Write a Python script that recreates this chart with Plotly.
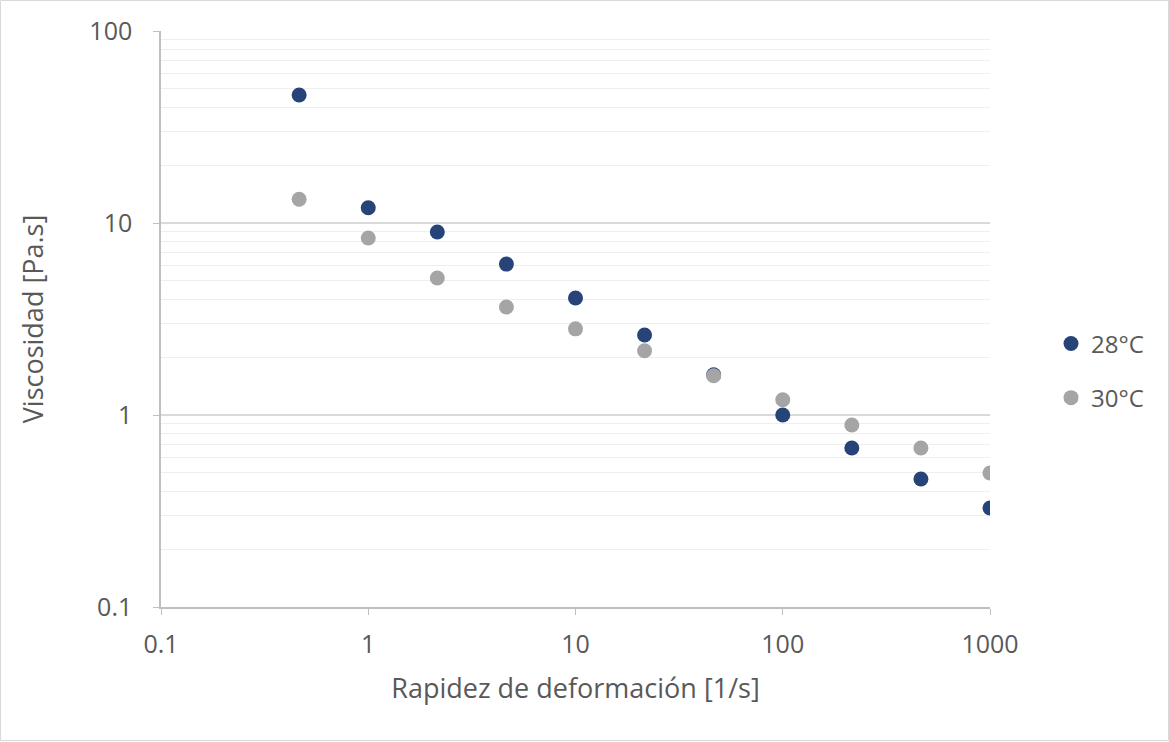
import plotly.graph_objects as go

# Shear rate [1/s]
shear_rate = [0.464, 1.0, 2.154, 4.642, 10.0, 21.54, 46.42, 100.0, 215.4, 464.2, 1000.0]
# Viscosity [Pa.s] at each temperature
visc_28 = [46.4, 12.0, 8.98, 6.11, 4.07, 2.61, 1.62, 1.00, 0.673, 0.464, 0.328]
visc_30 = [13.3, 8.35, 5.17, 3.65, 2.81, 2.16, 1.60, 1.20, 0.887, 0.673, 0.499]

series_names = ["28°C", "30°C"]
series_colors = ["#264478", "#A5A5A5"]

FONT = "Open Sans"
TXT = "#595959"

fig = go.Figure()
for name, ys, col in zip(series_names, [visc_28, visc_30], series_colors):
    fig.add_trace(go.Scatter(
        x=shear_rate, y=ys, mode="markers", name=name, legendgroup=name,
        marker=dict(size=15, color=col, line=dict(width=0)),
    ))

minor_y = [m * 10 ** e for e in (-1, 0, 1) for m in range(2, 10)]

fig.update_layout(
    width=1169, height=742,
    margin=dict(l=161, r=179, t=31, b=135),
    paper_bgcolor="white", plot_bgcolor="white",
    font=dict(family=FONT, size=24, color=TXT),
    showlegend=True,
    legend=dict(x=1.0736, y=0.41, xanchor="left", yanchor="middle",
                font=dict(size=24, color=TXT), itemsizing="trace",
                tracegroupgap=20, bgcolor="rgba(0,0,0,0)"),
    xaxis=dict(
        type="log", range=[-1, 3],
        tickvals=[0.1, 1, 10, 100, 1000], ticktext=["0.1", "1", "10", "100", "1000"],
        showgrid=False, zeroline=False,
        showline=True, linecolor="#BFBFBF", linewidth=1.5,
        ticks="outside", ticklen=6, tickcolor="#BFBFBF",
        tickfont=dict(size=25, color=TXT), ticklabelstandoff=8,
        title=dict(text="Rapidez de deformación [1/s]", font=dict(size=27, color=TXT), standoff=20),
    ),
    yaxis=dict(
        type="log", range=[-1, 2],
        tickvals=[0.1, 1, 10, 100], ticktext=["0.1", "1", "10", "100"],
        showgrid=True, gridcolor="#D9D9D9", gridwidth=1.5, zeroline=False,
        showline=True, linecolor="#BFBFBF", linewidth=1.5,
        ticks="outside", ticklen=6, tickcolor="#BFBFBF",
        tickfont=dict(size=25, color=TXT), ticklabelstandoff=16,
        minor=dict(tickvals=minor_y, showgrid=True, gridcolor="#EFEFEF", gridwidth=1.2, ticks=""),
        title=dict(text="Viscosidad [Pa.s]", font=dict(size=27, color=TXT), standoff=38),
    ),
)

# Chart-area border
fig.add_shape(type="rect", xref="paper", yref="paper",
              x0=-160.5 / 829, x1=1007.5 / 829, y0=-133.5 / 576, y1=606.5 / 576,
              line=dict(color="#D9D9D9", width=1), fillcolor="rgba(0,0,0,0)", layer="below")

fig.write_html("out.html")
